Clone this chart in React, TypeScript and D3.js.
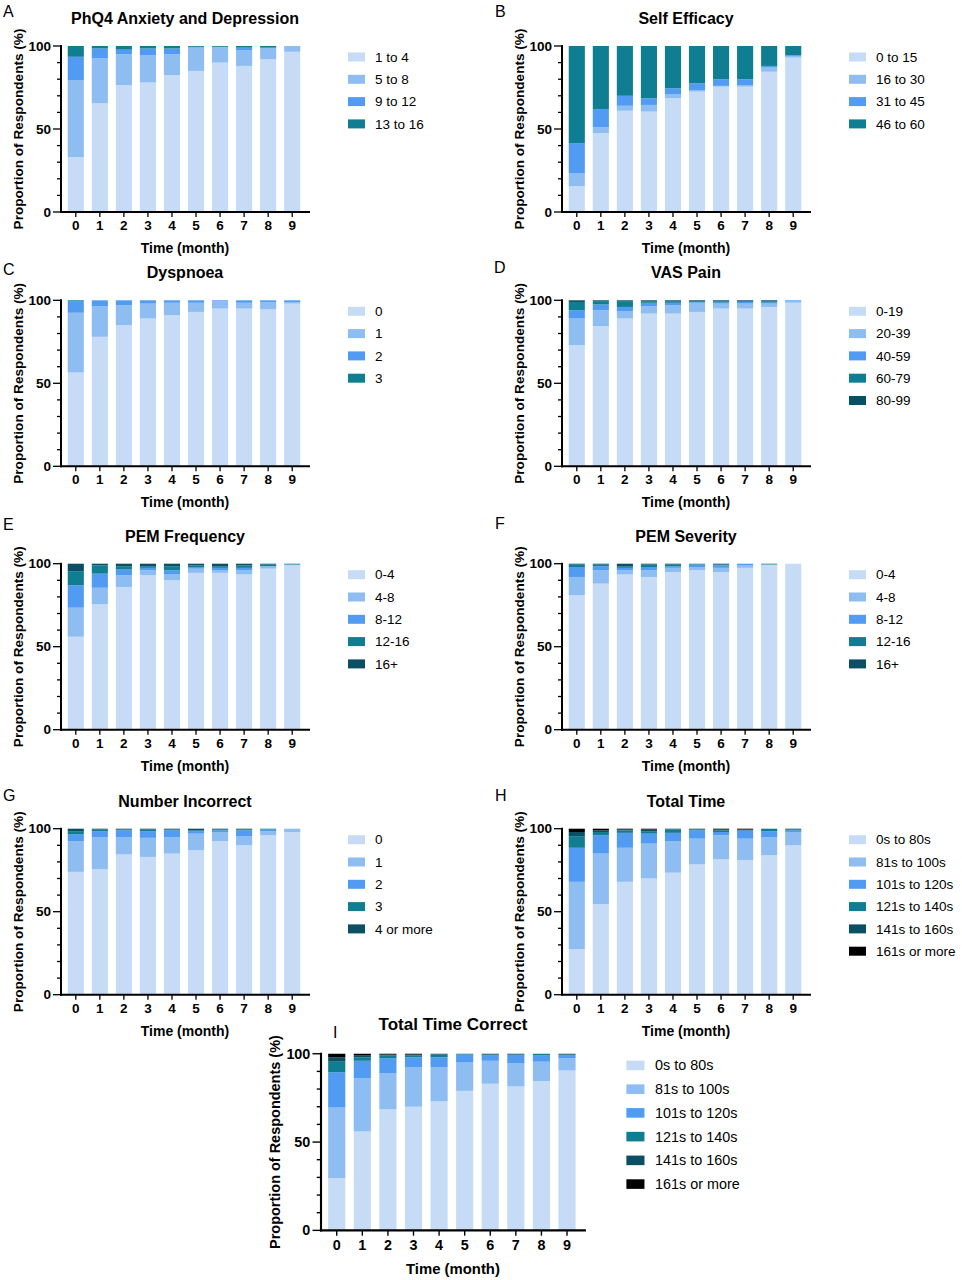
import React from 'react';
import * as d3 from 'd3';

const months = ['0', '1', '2', '3', '4', '5', '6', '7', '8', '9'];
const palette = ['#c6dcf6', '#8ebdf1', '#519cf2', '#107e92', '#0b4f64', '#000000'];
const yTicks = [0, 50, 100];

// A - PhQ4 (one row per category, months 0..9)
const phq4Cats = ['1 to 4', '5 to 8', '9 to 12', '13 to 16'];
const phq4Values = [
  [33, 65.5, 76.5, 78, 82.5, 85, 90, 88, 92, 96.5],
  [46.5, 27, 18.5, 16.5, 12.5, 14, 9.5, 9.5, 6.5, 3.5],
  [14, 6, 2.8, 4, 3.5, 0.5, 0, 1.5, 0.5, 0],
  [6.5, 1.5, 2.2, 1.5, 1.5, 0.5, 0.5, 1, 1, 0],
];

// B - Self Efficacy
const efficacyCats = ['0 to 15', '16 to 30', '31 to 45', '46 to 60'];
const efficacyValues = [
  [15.5, 47.5, 61, 60.5, 68.5, 72.5, 75.5, 75.5, 84.5, 93],
  [8, 3.5, 3, 4, 2.5, 1, 0.5, 1, 2.5, 1],
  [18, 11, 6, 4, 3.5, 4, 4, 3.5, 1, 0.5],
  [58.5, 38, 30, 31.5, 25.5, 22.5, 20, 20, 12, 5.5],
];

// C - Dyspnoea
const dyspCats = ['0', '1', '2', '3'];
const dyspValues = [
  [56.5, 78, 85, 89, 91, 93, 95, 95, 94.5, 98],
  [36, 18.5, 12, 9, 7.5, 5.5, 4.5, 3.5, 4.5, 1],
  [7, 3.5, 3, 2, 1.5, 1.5, 0.5, 1.5, 1, 1],
  [0.5, 0, 0, 0, 0, 0, 0, 0, 0, 0],
];

// D - VAS Pain
const vasCats = ['0-19', '20-39', '40-59', '60-79', '80-99'];
const vasValues = [
  [73, 84.5, 89, 92, 92, 93, 95, 95, 96, 98.5],
  [16, 9.5, 4.5, 4.5, 5, 5.5, 3, 3, 2, 1],
  [5, 3.5, 2.5, 2, 1.5, 0.5, 1, 1, 1, 0.5],
  [5, 2, 3.5, 1, 1, 0.5, 0.5, 0.5, 0.5, 0],
  [1, 0.5, 0.5, 0.5, 0.5, 0.5, 0.5, 0.5, 0.5, 0],
];

// E - PEM Frequency
const pemCats = ['0-4', '4-8', '8-12', '12-16', '16+'];
const pemFreqValues = [
  [56, 75.5, 86, 93, 90, 94.5, 94.5, 93.5, 97, 99],
  [17.5, 10, 7, 3, 3.5, 2.5, 1.5, 2.5, 1.5, 0.5],
  [13.5, 8.5, 3.5, 1.5, 2.5, 1, 1.5, 1.5, 0, 0],
  [8.5, 5, 2, 1, 2.5, 1, 1, 1.5, 1, 0.5],
  [4.5, 1, 1.5, 1.5, 1.5, 1, 1.5, 1, 0.5, 0],
];

// F - PEM Severity
const pemSevValues = [
  [81, 88, 93.5, 92, 95, 96, 95, 97.5, 99.5, 100],
  [11, 8, 2.5, 4, 2.5, 2, 2.5, 1.5, 0, 0],
  [6, 2.5, 1.5, 2, 1, 1.5, 1.5, 1, 0, 0],
  [1.5, 1, 1, 1.5, 1, 0.5, 0.5, 0, 0.5, 0],
  [0.5, 0.5, 1.5, 0.5, 0.5, 0, 0.5, 0, 0, 0],
];

// G - Number Incorrect
const incorrectCats = ['0', '1', '2', '3', '4 or more'];
const incorrectValues = [
  [74, 75.5, 84.5, 83, 85, 87, 92.5, 90, 96, 98],
  [18.5, 19.5, 10.5, 11.5, 10, 10, 5.5, 5.5, 2.5, 2],
  [4, 3.5, 4, 4, 4, 1.5, 1, 3.5, 1, 0],
  [2, 1, 0.5, 1, 0.5, 0.5, 0.5, 0.5, 0.5, 0],
  [1.5, 0.5, 0.5, 0.5, 0.5, 1, 0.5, 0.5, 0, 0],
];

// H - Total Time
const timeCats = ['0s to 80s', '81s to 100s', '101s to 120s', '121s to 140s', '141s to 160s', '161s or more'];
const timeValues = [
  [27.5, 54.5, 68, 70, 73.5, 78.5, 81.5, 81, 84, 90],
  [40.5, 30.5, 20.5, 21, 19, 15.5, 14.5, 13, 11, 8],
  [20.5, 11, 9, 6, 5, 5, 2, 5, 3.5, 1],
  [7, 2, 1.5, 1.5, 2, 0.5, 1, 0, 1.5, 0.5],
  [2.5, 1, 0.5, 1, 0.5, 0.5, 0.5, 0.5, 0, 0.5],
  [2, 1, 0.5, 0.5, 0, 0, 0.5, 0.5, 0, 0],
];

// I - Total Time Correct
const timeCorrectValues = [
  [29.5, 56, 68.5, 70, 73, 79, 83, 81.5, 84.5, 90.5],
  [40, 30, 20.5, 22.5, 19.5, 16, 13, 13, 11, 7],
  [20, 10, 8.5, 5.5, 5.5, 4.5, 3, 5, 3.5, 1.5],
  [6, 2, 1.5, 1, 1.5, 0.5, 0.5, 0, 1, 0.5],
  [2.5, 1, 0.5, 0.5, 0.5, 0, 0.5, 0.5, 0, 0.5],
  [2, 1, 0.5, 0.5, 0, 0, 0, 0, 0, 0],
];

const FONT = '"Liberation Sans", Arial, Helvetica, sans-serif';

type PanelProps = {
  title: string;
  cats: string[];
  values: number[][];
  ox: number;
  oy: number;
  scale?: number;
};

const Panel = ({ title, cats, values, ox, oy, scale = 1 }: PanelProps) => {
  // plot frame in panel-local units
  const left = 61;
  const right = 310;
  const top = 46;
  const bottom = 212;

  const x = d3.scaleBand<string>()
    .domain(months)
    .range([left, 307])
    .paddingInner(0.33)
    .paddingOuter(0.28);
  const y = d3.scaleLinear().domain([0, 100]).range([bottom, top]);

  const rows = months.map((m, i) => {
    const r: any = { month: m };
    cats.forEach((c, j) => { r[c] = values[j][i]; });
    return r;
  });
  const layers = d3.stack<any>().keys(cats)(rows);
  const minor = d3.range(0, 101, 10);

  return (
    <g transform={`translate(${ox},${oy}) scale(${scale})`} fontFamily={FONT}>
      <text x={185} y={24} textAnchor="middle" fontSize={16} fontWeight="bold">{title}</text>

      {layers.map((layer, j) => (
        <g key={layer.key} fill={palette[j]}>
          {layer.map((d, i) => (
            <rect
              key={i}
              x={x(months[i])}
              width={x.bandwidth()}
              y={y(d[1])}
              height={Math.max(0, y(d[0]) - y(d[1]))}
            />
          ))}
        </g>
      ))}

      {/* y axis */}
      <line x1={left} x2={left} y1={top - 1} y2={bottom + 1} stroke="#000" strokeWidth={2} />
      {minor.map(v => (
        <line key={v} x1={left - (v % 50 === 0 ? 8 : 4)} x2={left} y1={y(v)} y2={y(v)} stroke="#000" strokeWidth={1.3} />
      ))}
      {yTicks.map(v => (
        <text key={v} x={left - 10} y={y(v)} dy="0.35em" textAnchor="end" fontSize={13.5} fontWeight="bold">{v}</text>
      ))}

      {/* x axis */}
      <line x1={left - 1} x2={right} y1={bottom} y2={bottom} stroke="#000" strokeWidth={2} />
      {months.map(m => {
        const cx = (x(m) as number) + x.bandwidth() / 2;
        return (
          <g key={m}>
            <line x1={cx} x2={cx} y1={bottom} y2={bottom + 5} stroke="#000" strokeWidth={1.3} />
            <text x={cx} y={230} textAnchor="middle" fontSize={13.5} fontWeight="bold">{m}</text>
          </g>
        );
      })}
      <text x={185} y={253} textAnchor="middle" fontSize={14} fontWeight="bold">Time (month)</text>
      <text
        transform={`translate(18,${(top + bottom) / 2}) rotate(-90)`}
        textAnchor="middle"
        dy="0.35em"
        fontSize={13.6}
        fontWeight="bold"
      >
        Proportion of Respondents (%)
      </text>

      {/* legend */}
      {cats.map((c, j) => {
        const ly = top + 11 + j * 22.3;
        return (
          <g key={c}>
            <rect x={348} y={ly - 4.5} width={17} height={9} fill={palette[j]} />
            <text x={375} y={ly} dy="0.35em" fontSize={13.5}>{c}</text>
          </g>
        );
      })}
    </g>
  );
};

const letters = [
  { t: 'A', x: 3, y: 17 },
  { t: 'B', x: 495, y: 17 },
  { t: 'C', x: 3, y: 275 },
  { t: 'D', x: 494, y: 273 },
  { t: 'E', x: 3, y: 530 },
  { t: 'F', x: 495, y: 529 },
  { t: 'G', x: 3, y: 801 },
  { t: 'H', x: 495, y: 801 },
  { t: 'I', x: 333, y: 1038 },
];

export default function App() {
  const colL = 0;
  const colR = 501;
  return (
    <svg
      width={962}
      height={1280}
      style={{ position: 'absolute', left: 0, top: 0, background: '#fff' }}
    >
      <rect width={962} height={1280} fill="#fff" />
      <Panel title="PhQ4 Anxiety and Depression" cats={phq4Cats} values={phq4Values} ox={colL} oy={0} />
      <Panel title="Self Efficacy" cats={efficacyCats} values={efficacyValues} ox={colR} oy={0} />
      <Panel title="Dyspnoea" cats={dyspCats} values={dyspValues} ox={colL} oy={254.3} />
      <Panel title="VAS Pain" cats={vasCats} values={vasValues} ox={colR} oy={254.3} />
      <Panel title="PEM Frequency" cats={pemCats} values={pemFreqValues} ox={colL} oy={517.7} />
      <Panel title="PEM Severity" cats={pemCats} values={pemSevValues} ox={colR} oy={517.7} />
      <Panel title="Number Incorrect" cats={incorrectCats} values={incorrectValues} ox={colL} oy={782.7} />
      <Panel title="Total Time" cats={timeCats} values={timeValues} ox={colR} oy={782.7} />
      <Panel title="Total Time Correct" cats={timeCats} values={timeCorrectValues} ox={256.1} oy={1004.8} scale={1.064} />
      {letters.map(l => (
        <text key={l.t} x={l.x} y={l.y} fontFamily={FONT} fontSize={16}>{l.t}</text>
      ))}
    </svg>
  );
}
